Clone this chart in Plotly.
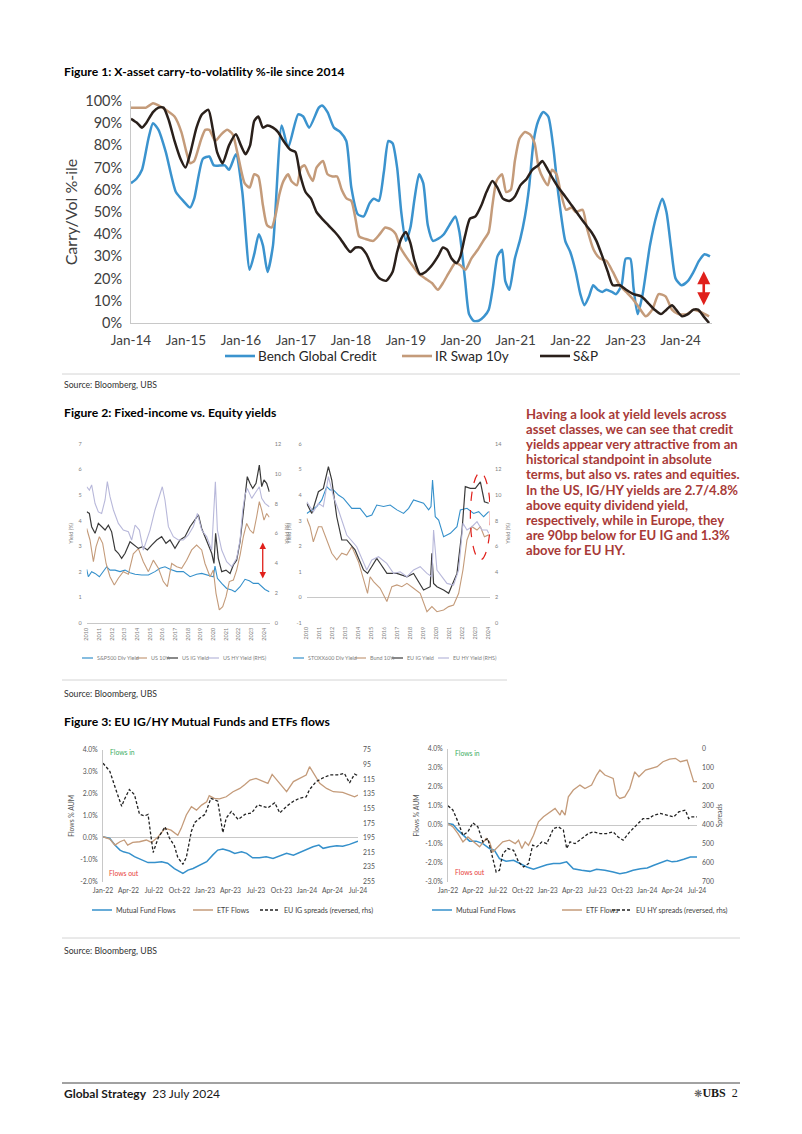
import plotly.graph_objects as go

W, H = 802, 1134
def px(x): return x / W
def py(y): return 1 - y / H

FONT = "Lato"
BLUE = "#3590CB"
TAN = "#C49B7A"
DARK = "#2A201B"
LAV = "#B8B8DA"
RED = "#E0201B"

# ---------------- Figure 1 data: (months since Jan-2014, percentile) ----------------
credit = [(0,63),(1.2,65),(2.4,69),(3.8,83),(4.8,90),(6,87),(7.6,77),(9.8,59),(11.4,55),(12.9,52),
          (13.8,56),(15.7,74),(17.1,75),(18.1,71),(20.5,71),(21.4,69),(22.9,76),(24.3,59),(25.9,24),
          (26.9,31),(27.9,40),(28.8,35),(29.8,23),(31,35),(32.9,89),(34.3,79),(36.5,94),(37.6,93),
          (38.9,88),(41,97),(41.7,98),(42.9,95),(44.3,88),(45.7,86),(47,82),(48.1,61),(49.5,49),
          (50.8,48),(52.1,54),(53,56),(54.1,55),(55.2,68),(56.2,82),(57.1,81),(58.1,70),(59,50),
          (60,37),(61,43),(61.9,56),(62.9,67),(63.8,63),(64.8,44),(65.9,37),(67.1,38),(68.3,40),
          (69.5,44),(70.8,48),(71.7,41),(72.9,20),(73.8,4),(74.8,1),(75.9,1),(77.1,3),(78.1,6),
          (79,16),(80,30),(81,33),(81.7,19),(82.6,15),(83.8,29),(85,38),(86,48),(86.9,61),(87.9,82),
          (88.9,91),(90,95),(91.1,93),(92.2,79),(93.3,58),(94.8,37),(95.9,32),(97.1,23),(98.1,13),
          (99,8),(100,12),(100.9,17),(101.9,15),(102.9,14),(103.8,15),(105,14),(105.9,13),(107.1,17),
          (108,29),(109,29),(109.7,16),(110.6,4),(111.7,13),(113.3,35),(114.8,49),(116,56),(116.9,50),
          (117.9,34),(118.9,20),(120.2,17),(121.6,19),(122.8,23),(124,28),(125.2,31),(126.4,30)]
swap = [(0,97),(1.9,97),(3.3,97),(4.8,99),(6,98),(7.6,96),(9.5,93),(11,86),(12.1,77),(12.9,72),
        (13.8,73),(15.2,82),(16.2,87),(17.1,87),(18.4,82),(19.7,85),(21,87),(22.2,85),(23.3,76),
        (24.8,63),(25.9,61),(26.9,67),(27.8,66),(28.8,53),(29.7,44),(30.7,43),(31.6,49),(32.4,58),
        (33.3,64),(34.3,67),(35,64),(36.2,62),(37.1,70),(37.9,71),(38.8,67),(39.7,64),(40.5,70),
        (41.9,73),(42.9,67),(44,66),(45,66),(46,60),(47.1,56),(48.1,55),(49,47),(49.8,39),(51,38),
        (52.9,37),(54.3,40),(55.5,43),(56.9,42),(57.8,40),(58.8,34),(60,30),(61.4,26),(62.9,22),
        (64.3,20),(65.7,18),(67,15),(68.1,18),(69.5,23),(70.8,27),(71.9,26),(73,24),(74.3,29),
        (75.7,33),(76.9,37),(78.1,41),(78.9,53),(79.8,64),(81,67),(81.9,59),(82.9,60),(83.8,73),
        (84.8,83),(86,86),(87.1,85),(88.1,81),(89,70),(90,65),(91,62),(91.9,69),(92.9,67),(93.8,59),
        (95,51),(96.2,52),(97.1,50),(98.6,51),(99.5,43),(101,33),(102.4,29),(103.8,28),(105.2,23),
        (106.7,17),(108.1,14),(109.5,11),(110.9,7),(112.4,3),(113.8,6),(115.2,13),(116.7,12),
        (118.1,6),(119.5,4),(121.4,4),(122.8,6),(124.3,5),(126.2,3)]
spx = [(0,92),(1.4,90),(2.4,88),(3.3,90),(4.8,95),(6,97),(7.1,97),(8.3,91),(9.5,82),(10.8,74),
       (11.9,70),(13,77),(14.3,88),(15.5,94),(16.9,96),(17.8,88),(18.8,77),(20,72),(21.4,80),
       (22.9,85),(24,80),(25,76),(26,80),(26.9,91),(27.8,93),(28.8,88),(29.8,89),(31,88),(32.1,86),
       (33.3,82),(34.8,78),(35.9,77),(36.9,67),(38.1,59),(39.3,56),(40.5,50),(41.7,47),(43.1,44),
       (44.5,41),(45.7,38),(47,34),(47.9,32),(49,34),(50.2,34),(51.4,31),(52.9,24),(54.3,20),
       (55.7,19),(57.1,23),(58.1,32),(59,38),(60,41),(61,36),(61.9,28),(63.1,22),(64.3,23),
       (65.7,26),(67,30),(68.1,34),(69,33),(70,29),(71.1,27),(71.9,30),(72.9,39),(74,47),(75.2,48),
       (76.5,53),(77.6,59),(78.9,64),(80,61),(81.2,56),(82.6,55),(83.8,57),(85,62),(86.4,65),
       (87.6,69),(88.9,71),(89.8,73),(91,69),(92.1,65),(93.3,61),(94.8,57),(96.2,53),(97.6,49),
       (99,45),(100.5,41),(101.6,37),(102.9,30),(104.1,23),(105.2,17),(106.7,17),(108.1,15),
       (109.7,13),(111.4,12),(112.9,9),(114.3,6),(115.7,4),(116.9,6),(118.1,8),(119,6),(120.3,3),
       (121.6,4),(122.8,6),(123.8,6),(125,3),(126.2,0)]
fig1_years = list(range(2014, 2025))
fig1_labels = ["Jan-14","Jan-15","Jan-16","Jan-17","Jan-18","Jan-19","Jan-20","Jan-21","Jan-22","Jan-23","Jan-24"]

# ---------------- Figure 2 data: (year, yield %) ----------------
us_div = [(2010.0,2.09),(2010.13,1.8),(2010.39,2.0),(2010.66,1.93),(2011.0,1.8),(2011.32,2.0),(2011.58,2.19),
          (2011.84,2.06),(2012.24,2.06),(2012.63,2.0),(2013.03,2.06),(2013.42,1.96),(2013.82,1.9),(2014.34,1.87),
          (2014.87,1.87),(2015.39,2.0),(2015.79,2.13),(2016.18,2.19),(2016.58,2.09),(2017.11,2.0),(2017.63,2.0),
          (2018.16,1.8),(2018.68,1.9),(2019.08,1.93),(2019.61,1.87),(2020.0,1.8),(2020.13,2.22),(2020.32,1.74),
          (2020.66,1.54),(2021.05,1.34),(2021.45,1.28),(2021.71,1.21),(2022.11,1.41),(2022.5,1.7),(2022.84,1.64),
          (2023.16,1.54),(2023.55,1.54),(2023.82,1.41),(2024.08,1.3),(2024.42,1.21)]
us_10y = [(2010.0,3.69),(2010.26,3.24),(2010.53,2.39),(2010.74,2.98),(2011.0,3.37),(2011.26,3.11),(2011.53,2.32),
          (2011.84,1.8),(2012.18,1.48),(2012.5,1.74),(2012.89,2.0),(2013.29,1.9),(2013.68,2.7),(2014.08,2.9),
          (2014.47,2.39),(2014.87,2.0),(2015.26,2.45),(2015.66,2.13),(2016.05,1.61),(2016.37,1.41),(2016.71,2.32),
          (2017.11,2.19),(2017.5,2.13),(2017.89,2.45),(2018.29,2.85),(2018.68,3.04),(2019.08,2.85),(2019.34,2.32),
          (2019.74,1.8),(2020.0,2.06),(2020.21,1.15),(2020.47,0.5),(2020.74,0.63),(2021.0,1.02),(2021.26,1.61),
          (2021.58,1.67),(2021.84,2.06),(2022.11,2.65),(2022.37,3.37),(2022.63,3.89),(2022.89,3.63),(2023.16,3.5),
          (2023.42,4.15),(2023.63,4.74),(2023.82,4.41),(2024.0,4.02),(2024.21,4.28),(2024.42,4.13)]
us_ig = [(2010.0,4.35),(2010.21,4.28),(2010.39,3.76),(2010.66,3.5),(2010.92,3.89),(2011.18,3.76),(2011.45,3.63),
         (2011.71,3.82),(2011.97,3.56),(2012.24,2.85),(2012.5,2.72),(2012.76,2.52),(2013.03,2.72),(2013.42,3.17),
         (2013.74,3.04),(2014.08,2.91),(2014.42,2.98),(2014.79,2.85),(2015.13,3.04),(2015.53,3.24),(2015.92,3.37),
         (2016.26,3.11),(2016.58,3.24),(2016.97,2.91),(2017.37,3.24),(2017.76,3.37),(2018.16,3.76),(2018.63,4.09),
         (2018.82,4.22),(2019.08,3.69),(2019.47,3.17),(2019.87,2.72),(2020.05,2.32),(2020.18,3.5),(2020.39,2.52),
         (2020.66,2.0),(2021.0,2.06),(2021.32,1.93),(2021.58,2.26),(2021.84,2.45),(2022.11,3.17),(2022.32,4.02),
         (2022.5,4.8),(2022.68,5.72),(2022.89,5.46),(2023.11,5.26),(2023.37,5.46),(2023.63,6.17),(2023.82,5.33),
         (2024.0,5.59),(2024.21,5.46),(2024.42,5.13)]
us_hy = [(2010.0,9.13),(2010.21,8.9),(2010.39,9.25),(2010.66,8.0),(2010.92,7.44),(2011.18,7.34),(2011.45,8.24),
         (2011.63,9.47),(2011.84,8.46),(2012.11,7.57),(2012.5,6.67),(2012.89,6.22),(2013.29,6.11),(2013.55,5.55),
         (2013.82,6.56),(2014.16,6.22),(2014.47,4.88),(2014.74,5.55),(2015.0,6.22),(2015.39,7.57),(2015.79,8.69),
         (2015.97,9.13),(2016.18,8.24),(2016.45,6.45),(2016.84,5.78),(2017.24,5.55),(2017.63,5.55),(2018.03,5.89),
         (2018.42,6.45),(2018.74,7.34),(2019.08,6.22),(2019.47,5.78),(2019.87,4.88),(2020.05,7.34),(2020.16,9.47),
         (2020.32,6.22),(2020.66,4.88),(2021.05,4.1),(2021.45,3.76),(2021.84,4.32),(2022.11,5.55),(2022.32,7.57),
         (2022.5,8.57),(2022.68,9.02),(2023.03,8.35),(2023.29,8.69),(2023.63,9.13),(2023.82,8.35),(2024.08,8.01),
         (2024.42,7.79)]
eu_div = [(2010.0,3.28),(2010.39,3.42),(2010.77,3.55),(2011.16,3.81),(2011.54,4.33),(2011.8,4.2),(2012.06,4.2),
          (2012.44,4.0),(2012.83,3.87),(2013.47,3.48),(2014.11,3.48),(2014.62,3.15),(2015.01,3.22),(2015.39,3.61),
          (2015.91,3.55),(2016.42,3.61),(2016.94,3.42),(2017.45,3.28),(2017.84,3.48),(2018.22,3.81),(2018.61,3.74),
          (2018.99,3.68),(2019.38,3.42),(2019.56,3.55),(2019.68,4.59),(2019.89,3.15),(2020.15,3.02),(2020.53,2.37),
          (2021.05,2.5),(2021.56,2.76),(2021.82,3.42),(2022.33,3.48),(2022.84,3.28),(2023.23,3.35),(2023.61,3.15),
          (2024.0,3.35)]
bund = [(2010.0,3.09),(2010.26,2.76),(2010.51,2.17),(2010.9,2.76),(2011.16,2.76),(2011.54,2.24),(2011.93,1.72),
        (2012.31,1.46),(2012.7,1.72),(2013.08,1.65),(2013.47,1.98),(2013.98,1.39),(2014.5,0.54),(2014.68,0.15),
        (2014.88,0.8),(2015.14,0.61),(2015.65,0.35),(2016.17,-0.17),(2016.55,0.41),(2016.94,0.48),(2017.32,0.41),
        (2017.71,0.54),(2018.22,0.35),(2018.73,0.15),(2019.25,-0.57),(2019.63,-0.37),(2020.02,-0.57),(2020.53,-0.5),
        (2020.92,-0.37),(2021.3,-0.31),(2021.69,0.15),(2022.02,1.07),(2022.33,2.24),(2022.71,2.76),(2023.1,2.63),
        (2023.36,2.76),(2023.67,2.37),(2024.0,2.44)]
eu_ig = [(2010.0,3.68),(2010.39,3.28),(2010.9,4.13),(2011.28,4.26),(2011.67,5.11),(2011.93,4.59),(2012.31,3.15),
         (2012.7,2.24),(2013.08,2.24),(2013.72,1.85),(2014.37,1.07),(2014.68,0.93),(2015.01,1.2),(2015.39,1.52),
         (2015.65,1.33),(2016.17,0.93),(2016.94,0.93),(2017.71,0.8),(2018.22,0.93),(2018.99,0.28),(2019.5,0.41),
         (2019.63,1.72),(2019.76,0.54),(2020.02,0.41),(2020.53,0.28),(2020.92,0.15),(2021.56,0.93),(2021.95,2.63),
         (2022.2,4.33),(2022.59,4.26),(2022.97,4.26),(2023.36,4.52),(2023.67,3.74),(2024.0,3.68)]
eu_hy = [(2010.0,9.48),(2010.51,8.69),(2010.9,9.35),(2011.28,9.09),(2011.67,11.44),(2012.06,9.87),(2012.44,8.83),
         (2013.08,6.87),(2013.85,5.95),(2014.62,4.13),(2015.01,4.91),(2015.52,5.17),(2016.16,4.65),(2016.68,3.86),
         (2017.19,3.99),(2017.71,3.6),(2018.22,4.13),(2018.73,4.39),(2019.25,3.86),(2019.63,3.6),(2019.76,7.26),
         (2020.02,4.13),(2020.79,3.08),(2021.3,2.95),(2021.69,4.13),(2022.02,7.78),(2022.33,7.26),(2022.71,7.52),
         (2023.1,7.91),(2023.49,7.26),(2023.87,7.26),(2024.0,7.0)]
fig2_years = list(range(2010, 2025))

# ---------------- Figure 3 data: (months since Jan-2022, value) ----------------
ig_mf = [(0,0.05),(0.8,-0.03),(1.4,-0.33),(2.0,-0.56),(2.4,-0.64),(3.1,-0.71),(3.7,-0.86),(4.5,-1.0),(5.3,-1.13),
         (6.1,-1.13),(6.9,-1.09),(7.6,-1.16),(8.4,-1.4),(9.4,-1.62),(10.0,-1.47),(10.6,-1.4),(11.4,-1.24),(12.2,-1.09),
         (12.9,-0.79),(13.5,-0.56),(14.1,-0.51),(14.9,-0.6),(15.5,-0.71),(16.3,-0.64),(16.9,-0.71),(17.6,-0.91),
         (18.4,-0.91),(19.2,-0.86),(20.0,-0.94),(20.8,-0.82),(21.6,-0.71),(22.4,-0.79),(23.1,-0.67),(23.9,-0.56),
         (24.7,-0.41),(25.4,-0.33),(25.9,-0.48),(26.7,-0.41),(27.5,-0.36),(28.2,-0.38),(29.0,-0.3),(30.0,-0.15)]
ig_etf = [(0,0.05),(0.8,-0.06),(1.4,-0.33),(2.0,-0.18),(2.5,-0.1),(2.9,-0.33),(3.5,-0.21),(4.3,-0.18),(5.1,-0.1),
          (5.7,-0.21),(6.5,0.05),(7.3,0.43),(8.0,0.35),(8.8,0.12),(9.2,0.43),(9.8,1.04),(10.4,1.42),(11.0,1.26),
          (11.6,1.49),(12.2,1.64),(12.5,1.92),(13.1,1.8),(13.7,1.77),(14.5,1.87),(15.3,2.1),(16.1,2.25),(16.7,2.43),
          (17.3,2.63),(18.0,2.71),(18.8,2.56),(19.4,2.48),(19.9,2.89),(20.6,2.56),(21.6,2.1),(22.4,2.56),(23.1,2.71),
          (23.9,2.86),(24.3,3.24),(24.9,2.86),(25.5,2.48),(26.3,2.25),(27.1,2.1),(28.2,2.07),(29.0,1.95),(29.6,1.87),
          (30.0,1.95)]
ig_spread = [(0,93),(0.8,104),(1.6,132),(2.2,152),(2.5,143),(3.1,129),(3.7,136),(4.3,163),(4.9,165),(5.3,163),
             (5.9,215),(6.5,195),(7.3,180),(7.8,195),(8.4,206),(8.8,222),(9.4,231),(9.8,222),(10.4,186),(10.8,174),
             (11.4,168),(12.0,163),(12.7,141),(13.5,145),(14.1,188),(14.5,168),(15.1,159),(15.9,170),(16.7,163),
             (17.5,161),(18.2,150),(18.8,152),(19.4,154),(20.2,147),(20.8,161),(21.6,152),(22.4,145),(23.1,141),
             (23.9,139),(24.3,129),(25.1,118),(25.9,113),(26.7,109),(27.6,109),(28.4,107),(29.0,120),(29.4,113),
             (29.6,108),(30.0,110)]
hy_mf = [(0,0.08),(0.6,0.03),(1.2,-0.27),(2.0,-0.63),(2.6,-0.85),(3.4,-0.85),(4.2,-0.98),(5.0,-1.24),(5.6,-1.33),
         (6.2,-1.77),(7.0,-1.91),(7.9,-1.86),(8.7,-2.03),(9.5,-2.21),(10.3,-2.33),(11.1,-2.21),(11.9,-2.09),
         (12.7,-2.03),(13.5,-2.03),(14.3,-1.94),(15.1,-2.3),(16.1,-2.38),(17.1,-2.44),(17.9,-2.33),(18.9,-2.38),
         (19.9,-2.47),(20.7,-2.56),(21.5,-2.5),(22.3,-2.38),(23.2,-2.3),(24.0,-2.26),(24.8,-2.12),(25.6,-2.0),
         (26.4,-1.86),(27.0,-1.94),(27.6,-1.91),(28.4,-1.8),(29.2,-1.68),(30.0,-1.68)]
hy_etf = [(0,0.08),(0.6,-0.1),(1.2,-0.45),(1.8,-0.89),(2.4,-0.63),(3.0,-0.85),(3.8,-1.15),(4.6,-0.71),(5.0,-0.89),
          (5.4,-1.42),(6.0,-1.15),(6.6,-0.89),(7.4,-0.8),(8.1,-0.98),(8.5,-0.8),(8.9,-1.24),(9.3,-0.89),(9.7,-1.07),
          (10.3,-0.54),(10.9,0.17),(11.5,0.43),(12.3,0.69),(12.9,0.87),(13.5,0.52),(13.7,0.78),(14.1,0.52),(14.5,1.48),
          (15.1,1.84),(15.9,2.1),(16.5,1.92),(17.3,2.1),(17.9,2.63),(18.3,2.89),(18.9,2.63),(19.9,2.45),(20.3,1.57),
          (20.7,1.4),(21.3,1.48),(21.9,1.92),(22.5,2.8),(23.0,2.54),(23.8,2.89),(24.4,2.98),(25.2,3.07),(25.9,3.33),
          (26.7,3.47),(27.4,3.51),(28.0,3.33),(28.8,3.42),(29.3,2.63),(29.6,2.28),(30.0,2.28)]
hy_spread = [(0,299),(0.6,322),(1.2,383),(1.8,454),(2.4,436),(3.0,389),(3.6,410),(4.2,489),(4.8,471),(5.4,568),
             (5.8,647),(6.2,638),(6.6,551),(7.2,524),(7.9,533),(8.5,594),(9.1,621),(9.7,603),(10.2,506),(10.7,515),
             (11.3,489),(11.9,498),(12.7,419),(13.3,410),(13.9,427),(14.3,524),(14.7,489),(15.3,498),(16.1,471),
             (16.9,445),(17.5,436),(18.3,445),(19.1,445),(19.9,436),(20.5,463),(21.1,480),(21.9,436),(22.7,401),
             (23.5,366),(24.2,366),(24.8,348),(25.6,339),(26.4,348),(27.2,357),(27.8,331),(28.6,322),(29.0,366),
             (29.4,357),(30.0,357)]
fig3_months = [0, 3, 6, 9, 12, 15, 18, 21, 24, 27, 30]
fig3_labels = ["Jan-22","Apr-22","Jul-22","Oct-22","Jan-23","Apr-23","Jul-23","Oct-23","Jan-24","Apr-24","Jul-24"]

paragraph = ["Having a look at yield levels across",
             "asset classes, we can see that credit",
             "yields appear very attractive from an",
             "historical standpoint in absolute",
             "terms, but also vs. rates and equities.",
             "In the US, IG/HY yields are 2.7/4.8%",
             "above equity dividend yield,",
             "respectively, while in Europe, they",
             "are 90bp below for EU IG and 1.3%",
             "above for EU HY."]

fig = go.Figure()
DASH = "3px,2px"

def add_line(pairs, xa, ya, color, width, xconv=lambda v: v, dash=None, shape="linear"):
    fig.add_trace(go.Scatter(
        x=[xconv(p[0]) for p in pairs], y=[p[1] for p in pairs], mode="lines",
        line=dict(color=color, width=width, dash=dash, shape=shape, smoothing=0.6 if shape == "spline" else None),
        xaxis=xa, yaxis=ya, hoverinfo="skip", showlegend=False))

m2y = lambda m: 2014 + m / 12.0
add_line(credit, "x", "y", "#3B93CE", 2.5, m2y, shape="spline")
add_line(swap, "x", "y", TAN, 2.5, m2y, shape="spline")
add_line(spx, "x", "y", DARK, 2.5, m2y, shape="spline")

add_line(us_hy, "x2", "y3", LAV, 1.1)
add_line(us_div, "x2", "y2", BLUE, 1.1)
add_line(us_10y, "x2", "y2", TAN, 1.1)
add_line(us_ig, "x2", "y2", "#3a3a3a", 1.2)

add_line(eu_hy, "x3", "y5", LAV, 1.1)
add_line(eu_div, "x3", "y4", BLUE, 1.1)
add_line(bund, "x3", "y4", TAN, 1.1)
add_line(eu_ig, "x3", "y4", "#3a3a3a", 1.2)

add_line(ig_mf, "x4", "y6", BLUE, 1.5)
add_line(ig_etf, "x4", "y6", TAN, 1.3)
add_line(ig_spread, "x4", "y7", "#222222", 1.3, dash=DASH)

add_line(hy_mf, "x5", "y8", BLUE, 1.5)
add_line(hy_etf, "x5", "y8", TAN, 1.3)
add_line(hy_spread, "x5", "y9", "#222222", 1.3, dash=DASH)

def xax(d0, d1, rng, tv, tt, anchor, size, color, angle=0, line=False, standoff=0):
    return dict(domain=[px(d0), px(d1)], range=rng, tickvals=tv, ticktext=tt, anchor=anchor,
                tickangle=angle, tickfont=dict(family=FONT, size=size, color=color), showgrid=False,
                zeroline=False, showline=line, linecolor="#c8c8c8", linewidth=1, ticks="", fixedrange=True,
                ticklabelstandoff=standoff)

def yax(p0, p1, rng, tv, tt, anchor, size, color, side="left", overlay=None, title="", tsize=7,
        line=False, zero=False, standoff=0, tstand=4):
    d = dict(domain=[py(p0), py(p1)], range=rng, tickvals=tv, ticktext=tt, anchor=anchor, side=side,
             tickfont=dict(family=FONT, size=size, color=color), showgrid=False, zeroline=zero,
             zerolinecolor="#c8c8c8", zerolinewidth=1, showline=line, linecolor="#c8c8c8", ticks="",
             ticklabelstandoff=standoff,
             title=dict(text=title, font=dict(family=FONT, size=tsize, color=color), standoff=tstand))
    if overlay:
        d["overlaying"] = overlay
    return d

# Figure 1 axes
fig.update_layout(
    xaxis=xax(131, 712, [2014, 2024.57], fig1_years, fig1_labels, "y", 13.5, "#404040", line=True, standoff=5),
    yaxis=yax(323, 101, [0, 100], list(range(0, 101, 10)), [f"{v}%" for v in range(0, 101, 10)], "x",
              14.5, "#404040", title="Carry/Vol %-ile", tsize=16, line=True, standoff=5, tstand=3),
)
# Figure 2 axes
fig.update_layout(
    xaxis2=xax(86.7, 269.7, [2010, 2024.45], fig2_years, [str(y) for y in fig2_years], "y2", 5.5, "#808080",
               angle=-90, line=True, standoff=2),
    yaxis2=yax(622.7, 444, [0, 7], list(range(0, 8)), [str(v) for v in range(0, 8)], "x2", 5.5, "#808080",
               title="Yield (%)", tsize=5.5, standoff=4),
    yaxis3=yax(622.7, 444, [0, 12], list(range(0, 13, 2)), [str(v) for v in range(0, 13, 2)], "x2", 5.5,
               "#808080", side="right", overlay="y2", title="Yield (%)", tsize=5.5, standoff=4),
    xaxis3=xax(306.7, 490, [2010, 2024.1], fig2_years, [str(y) for y in fig2_years], "y4", 5.5, "#808080",
               angle=-90, standoff=2),
    yaxis4=yax(622.7, 444, [-1, 6], list(range(-1, 7)), [str(v) for v in range(-1, 7)], "x3", 5.5, "#808080",
               title="Yield (%)", tsize=5.5, zero=True, standoff=4),
    yaxis5=yax(622.7, 444, [0, 14], list(range(0, 15, 2)), [str(v) for v in range(0, 15, 2)], "x3", 5.5,
               "#808080", side="right", overlay="y4", title="Yield (%)", tsize=5.5, standoff=4),
)
# Figure 3 axes
fig.update_layout(
    xaxis4=xax(103, 358, [0, 30], fig3_months, fig3_labels, "y6", 6.8, "#555555", standoff=3),
    yaxis6=yax(881.7, 750, [-2, 4], list(range(-2, 5)), [f"{v:.1f}%" for v in range(-2, 5)], "x4", 6.8,
               "#555555", title="Flows % AUM", tsize=6.8, line=True, zero=True, standoff=3),
    yaxis7=yax(881.7, 750, [255, 75], list(range(75, 256, 20)), [str(v) for v in range(75, 256, 20)], "x4",
               6.8, "#555555", side="right", overlay="y6", standoff=4),
    xaxis5=xax(448, 697, [0, 30], fig3_months, fig3_labels, "y8", 6.8, "#555555", standoff=3),
    yaxis8=yax(882, 749, [-3, 4], list(range(-3, 5)), [f"{v:.1f}%" for v in range(-3, 5)], "x5", 6.8,
               "#555555", title="Flows % AUM", tsize=6.8, line=True, zero=True, standoff=3),
    yaxis9=yax(882, 749, [700, 0], list(range(0, 701, 100)), [str(v) for v in range(0, 701, 100)], "x5",
               6.8, "#555555", side="right", overlay="y8", title="Spreads", tsize=6.8, standoff=4),
)

ann = []
shapes = []
def text(x, y, s, size, color="#000000", bold=False, family=FONT, anchor="left"):
    ann.append(dict(x=px(x), y=py(y), xref="paper", yref="paper", text=f"<b>{s}</b>" if bold else s,
                    showarrow=False, xanchor=anchor, yanchor="middle",
                    font=dict(family=family, size=size, color=color)))
def hline(x0, x1, y, color, width=1, dash=None):
    shapes.append(dict(type="line", xref="paper", yref="paper", x0=px(x0), x1=px(x1), y0=py(y), y1=py(y),
                       line=dict(color=color, width=width, dash=dash)))

# Titles, sources, separators
text(62, 71, "Figure 1: X-asset carry-to-volatility %-ile since 2014", 12.2, bold=True)
text(62, 412, "Figure 2: Fixed-income vs. Equity yields", 12.2, bold=True)
text(62, 721, "Figure 3: EU IG/HY Mutual Funds and ETFs flows", 12.2, bold=True)
for yy in (385, 693, 950):
    text(62, yy, "Source: Bloomberg, UBS", 8.7, "#333333")
hline(62, 740, 374, "#d4d4d4")
hline(62, 507, 680, "#d4d4d4")
hline(62, 740, 938, "#d4d4d4")

# Figure 1 legend
for (x0, col, lab) in [(225, "#3B93CE", "Bench Global Credit"), (402, TAN, "IR Swap 10y"), (540, DARK, "S&P")]:
    hline(x0, x0 + 30, 356, col, 2.6)
    text(x0 + 31, 356, lab, 13.5, "#262626")

# Figure 2 legends
for (x0, col, lab) in [(82, BLUE, "S&P500 Div Yield"), (136, TAN, "US 10Yr"), (167, "#3a3a3a", "US IG Yield"),
                       (208, LAV, "US HY Yield (RHS)"),
                       (293, BLUE, "STOXX600 Div Yield"), (355, TAN, "Bund 10Yr"), (392, "#3a3a3a", "EU IG Yield"),
                       (438, LAV, "EU HY Yield (RHS)")]:
    hline(x0, x0 + 11, 658, col, 1.2)
    text(x0 + 12.5, 658, lab, 5.4, "#808080")

# Figure 3 legends
for (x0, col, lab, dash) in [(92, BLUE, "Mutual Fund Flows", None), (193, TAN, "ETF Flows", None),
                             (260, "#222222", "EU IG spreads (reversed, rhs)", DASH),
                             (432, BLUE, "Mutual Fund Flows", None), (562, TAN, "ETF Flows", None),
                             (612, "#222222", "EU HY spreads (reversed, rhs)", DASH)]:
    hline(x0, x0 + 20, 910, col, 1.5, dash)
    text(x0 + 22, 910, lab, 7.1, "#404040")

text(108, 752, "Flows in", 6.8, "#3DAE62")
text(107, 873, "Flows out", 6.8, "#E8413C")
text(453, 753, "Flows in", 6.8, "#3DAE62")
text(453, 872, "Flows out", 6.8, "#E8413C")

# Red arrows and ellipse (in data coordinates)
ann.append(dict(x=2024.42, y=8, ax=2024.42, ay=24, xref="x", yref="y", axref="x", ayref="y", text="",
                showarrow=True, arrowhead=2, startarrowhead=2, arrowside="end+start", arrowwidth=2.6,
                arrowsize=1, startarrowsize=1, arrowcolor=RED))
ann.append(dict(x=2023.9, y=1.73, ax=2023.9, ay=3.2, xref="x2", yref="y2", axref="x2", ayref="y2", text="",
                showarrow=True, arrowhead=2, startarrowhead=2, arrowside="end+start", arrowwidth=1.3,
                arrowsize=1, startarrowsize=1, arrowcolor=RED))
shapes.append(dict(type="circle", xref="x3", yref="y4", x0=2022.59, x1=2024.13, y0=1.46, y1=4.88,
                   line=dict(color=RED, width=1.2, dash="dash")))

# Commentary paragraph
for i, line in enumerate(paragraph):
    text(524, 414 + i * 15.1, line, 13.1, "#A83A37", bold=True)

# Footer
hline(62, 740, 1083, "#444444", 1)
text(62, 1093, "<b>Global Strategy</b>  23 July 2024", 12, "#1a1a1a")
text(740, 1093, "<span style='font-family:DejaVu Sans;font-size:10px;color:#555'>❋</span><b>UBS</b>  2", 12,
     "#1a1a1a", family="Liberation Serif", anchor="right")

fig.update_layout(annotations=ann, shapes=shapes, width=W, height=H, margin=dict(l=0, r=0, t=0, b=0),
                  paper_bgcolor="white", plot_bgcolor="white", template="none", showlegend=False,
                  font=dict(family=FONT))

fig.write_html("out.html")
